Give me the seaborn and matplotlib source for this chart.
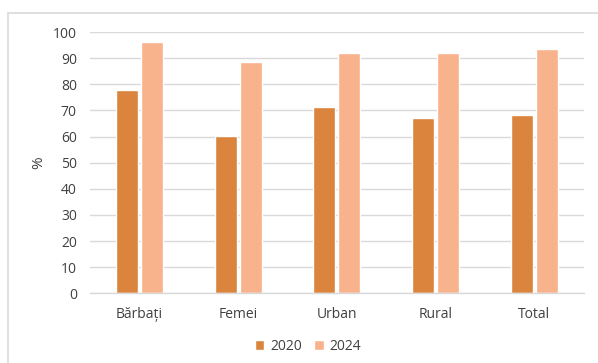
import matplotlib
matplotlib.use("Agg")
import matplotlib.pyplot as plt
import matplotlib.patches as mpatches
import pandas as pd
import seaborn as sns

categories = ["Bărbați", "Femei", "Urban", "Rural", "Total"]
years = ["2020", "2024"]
values_2020 = [77.8, 60.2, 71.4, 67.0, 68.4]
values_2024 = [96.2, 88.6, 92.0, 92.0, 93.5]
y_ticks = [0, 10, 20, 30, 40, 50, 60, 70, 80, 90, 100]

df = pd.DataFrame({
    "categorie": categories * 2,
    "an": [years[0]] * len(categories) + [years[1]] * len(categories),
    "valoare": values_2020 + values_2024,
})

sns.set_theme(style="white")
plt.rcParams["font.family"] = ["Open Sans", "DejaVu Sans"]

W, H = 598, 363
fig = plt.figure(figsize=(W / 100, H / 100), dpi=100)
ax = fig.add_axes([90 / W, 1 - 293.3 / H, (583.7 - 90) / W, (293.3 - 32) / H])

palette = {"2020": "#DA843E", "2024": "#F8B28C"}
sns.barplot(data=df, x="categorie", y="valoare", hue="an", palette=palette,
            width=0.505, gap=0.115, ax=ax, saturation=1, legend=True)

ax.set_ylim(0, 100)
ax.set_yticks(y_ticks)
ax.set_xlim(-0.5, len(categories) - 0.5)
ax.yaxis.grid(True, color="#D9D9D9", linewidth=1)
ax.set_axisbelow(True)
for side in ["top", "right", "left"]:
    ax.spines[side].set_visible(False)
ax.spines["bottom"].set_color("#D9D9D9")
ax.spines["bottom"].set_linewidth(1)
ax.tick_params(axis="both", length=0, labelsize=10, colors="#404040")
ax.tick_params(axis="x", pad=10)
ax.tick_params(axis="y", pad=9.5)
ax.set_xlabel("")
ax.set_ylabel("%", fontsize=11, color="#404040", labelpad=5)

handles, labels = ax.get_legend_handles_labels()
ax.get_legend().remove()
fig.legend(handles, labels, loc="center", bbox_to_anchor=(0.515, 1 - 346 / H),
           ncol=2, frameon=False, fontsize=10, handlelength=0.7, handleheight=0.7,
           handletextpad=0.4, columnspacing=0.9, labelcolor="#404040")

# outer chart frame
frame = mpatches.Rectangle((8 / W, -0.1), 1.2, 1 - 13 / H + 0.1, transform=fig.transFigure,
                           fill=False, edgecolor="#D9D9D9", linewidth=1.2, zorder=0)
fig.patches.append(frame)

fig.savefig("out.png", dpi=100)
